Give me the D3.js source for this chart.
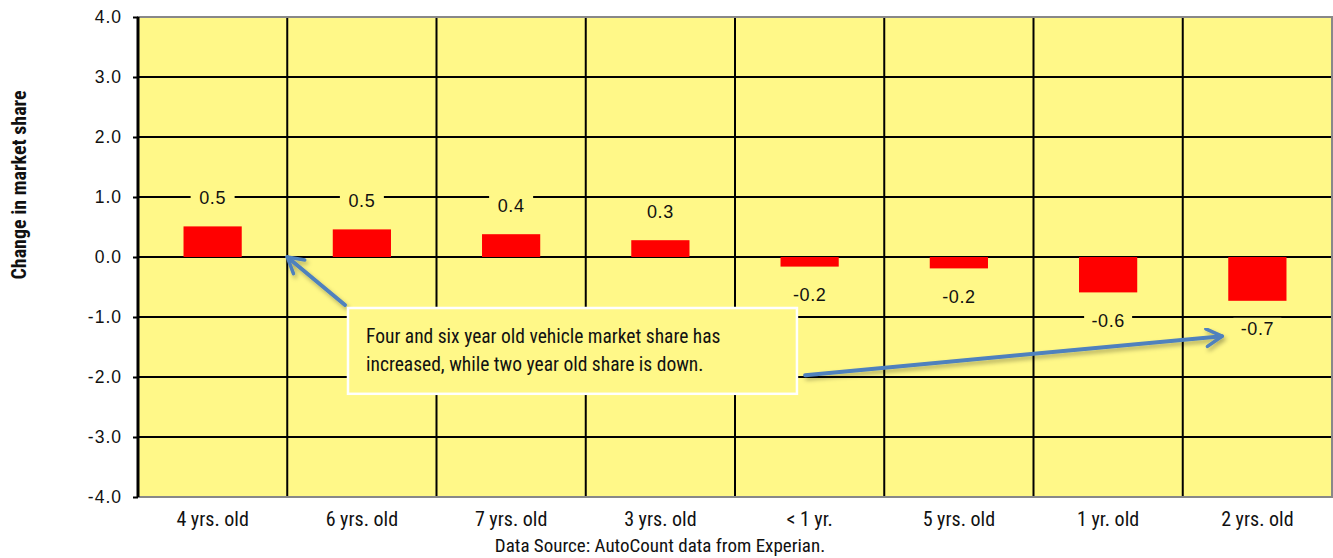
<!DOCTYPE html>
<html>
<head>
<meta charset="utf-8">
<script src="https://cdn.jsdelivr.net/npm/d3@7"></script>
<style>
  body { margin: 0; background: #fff; }
  svg { display: block; }
</style>
</head>
<body>
<script>
// chart data
const categories = ['4 yrs. old', '6 yrs. old', '7 yrs. old', '3 yrs. old', '< 1 yr.', '5 yrs. old', '1 yr. old', '2 yrs. old'];
const values = [0.51, 0.46, 0.38, 0.28, -0.16, -0.19, -0.59, -0.73];
const yTicks = [-4, -3, -2, -1, 0, 1, 2, 3, 4];
const noteLines = ['Four and six year old vehicle market share has', 'increased, while two year old share is down.'];

const W = 1333, H = 558;
const margin = { top: 17, right: 1, bottom: 61, left: 138 };
const width = W - margin.left - margin.right;
const height = H - margin.top - margin.bottom;

const narrow = '"Liberation Sans Narrow", "Roboto Condensed", "DejaVu Sans Condensed", sans-serif';
const plain = '"Liberation Sans", Arial, sans-serif';
const fmt = v => d3.format('.1f')(v).replace('\u2212', '-');

const svg = d3.select('body').append('svg')
    .attr('width', W)
    .attr('height', H);

const defs = svg.append('defs');
const shadow = defs.append('filter').attr('id', 'shadow')
    .attr('x', '-20%').attr('y', '-20%').attr('width', '140%').attr('height', '160%');
shadow.append('feDropShadow')
    .attr('dx', 2).attr('dy', 3).attr('stdDeviation', 2)
    .attr('flood-color', '#000').attr('flood-opacity', 0.3);
defs.append('marker')
    .attr('id', 'head')
    .attr('viewBox', '0 0 10 10')
    .attr('refX', 8).attr('refY', 5)
    .attr('markerWidth', 5.5).attr('markerHeight', 5.5)
    .attr('orient', 'auto')
    .append('path')
    .attr('d', 'M1,1 L8,5 L1,9')
    .attr('fill', 'none')
    .attr('stroke', '#4f81bd')
    .attr('stroke-width', 1.6)
    .attr('stroke-linecap', 'round')
    .attr('stroke-linejoin', 'round');

const g = svg.append('g').attr('transform', `translate(${margin.left},${margin.top})`);

const x = d3.scaleBand().domain(categories).range([0, width]).padding(0);
const y = d3.scaleLinear().domain([-4, 4]).range([height, 0]);
// category units, used to place the note and arrows
const xu = d3.scaleLinear().domain([0, categories.length]).range([0, width]);

// plot background
g.append('rect')
    .attr('width', width).attr('height', height)
    .attr('fill', '#fff888');

// horizontal gridlines
g.append('g')
    .selectAll('line')
    .data(yTicks.slice(1, -1))
    .enter().append('line')
    .attr('x1', 0).attr('x2', width)
    .attr('y1', d => y(d)).attr('y2', d => y(d))
    .attr('stroke', '#000').attr('stroke-width', 2);

// vertical gridlines at category boundaries
g.append('g')
    .selectAll('line')
    .data(categories.slice(1))
    .enter().append('line')
    .attr('x1', d => x(d)).attr('x2', d => x(d))
    .attr('y1', 0).attr('y2', height)
    .attr('stroke', '#000').attr('stroke-width', 2);

// plot border
g.append('rect')
    .attr('width', width).attr('height', height)
    .attr('fill', 'none')
    .attr('stroke', '#888').attr('stroke-width', 2);

// bars
const barW = x.bandwidth() * 0.39;
g.append('g')
    .selectAll('rect')
    .data(values)
    .enter().append('rect')
    .attr('x', (d, i) => x(categories[i]) + (x.bandwidth() - barW) / 2)
    .attr('width', barW)
    .attr('y', d => y(Math.max(0, d)))
    .attr('height', d => Math.abs(y(d) - y(0)))
    .attr('fill', '#ff0000');

// data labels, with a yellow box that hides the gridline behind
const labels = g.append('g')
    .selectAll('g')
    .data(values)
    .enter().append('g')
    .attr('transform', (d, i) => `translate(${x(categories[i]) + x.bandwidth() / 2},${y(d) + (d >= 0 ? -29 : 28)})`);
labels.append('rect')
    .attr('x', d => d < 0 ? -24 : -22)
    .attr('width', d => d < 0 ? 48 : 44)
    .attr('y', -11).attr('height', 22)
    .attr('fill', '#fff888');
labels.append('text')
    .attr('text-anchor', 'middle')
    .attr('dy', '0.36em')
    .style('font-family', plain)
    .style('font-size', '18px')
    .style('letter-spacing', '0.6px')
    .attr('fill', '#111')
    .text(d => fmt(d));

// y axis
const yAxis = g.append('g')
    .call(d3.axisLeft(y).tickValues(yTicks).tickSize(5).tickPadding(11));
yAxis.select('.domain').attr('stroke', '#000').attr('stroke-width', 3).attr('d', `M0,0V${height}`);
yAxis.selectAll('.tick line').attr('stroke', '#000').attr('stroke-width', 2);
yAxis.selectAll('.tick text')
    .style('font-family', plain)
    .style('font-size', '17.5px')
    .style('letter-spacing', '1px')
    .attr('fill', '#111')
    .text(d => fmt(d));

// category labels
g.append('g')
    .attr('transform', `translate(0,${height})`)
    .selectAll('text')
    .data(categories)
    .enter().append('text')
    .attr('x', d => x(d) + x.bandwidth() / 2)
    .attr('y', 29)
    .attr('text-anchor', 'middle')
    .style('font-family', narrow)
    .style('font-size', '20px')
    .attr('fill', '#111')
    .text(d => d);

// y axis title
svg.append('text')
    .attr('transform', `translate(26,${margin.top + y(1.2)}) rotate(-90)`)
    .attr('text-anchor', 'middle')
    .style('font-family', narrow)
    .style('font-weight', 'bold')
    .style('font-size', '20px')
    .attr('fill', '#111')
    .text('Change in market share');

// source note
svg.append('text')
    .attr('x', 660)
    .attr('y', H - 6)
    .attr('text-anchor', 'middle')
    .style('font-family', narrow)
    .style('font-size', '19px')
    .attr('fill', '#111')
    .text('Data Source: AutoCount data from Experian.');

// annotation arrows
const arrows = [
    { from: [1.387, -0.80], to: [1.0, 0.0] },
    { from: [4.47, -1.97], to: [7.263, -1.32] }
];
g.append('g')
    .selectAll('line')
    .data(arrows)
    .enter().append('line')
    .attr('x1', d => xu(d.from[0])).attr('y1', d => y(d.from[1]))
    .attr('x2', d => xu(d.to[0])).attr('y2', d => y(d.to[1]))
    .attr('stroke', '#4f81bd')
    .attr('stroke-width', 4)
    .attr('stroke-linecap', 'round')
    .attr('marker-end', 'url(#head)')
    .attr('filter', 'url(#shadow)');

// annotation box
const note = g.append('g');
note.append('rect')
    .attr('x', xu(1.407)).attr('y', y(-0.85))
    .attr('width', xu(4.415) - xu(1.407))
    .attr('height', y(-2.28) - y(-0.85))
    .attr('fill', '#fff888')
    .attr('stroke', '#fff').attr('stroke-width', 2.5);
note.selectAll('text')
    .data(noteLines)
    .enter().append('text')
    .attr('x', xu(1.407) + 18)
    .attr('y', (d, i) => y(-0.85) + 35 + i * 28)
    .style('font-family', narrow)
    .style('font-size', '19.5px')
    .attr('fill', '#111')
    .text(d => d);
</script>
</body>
</html>
